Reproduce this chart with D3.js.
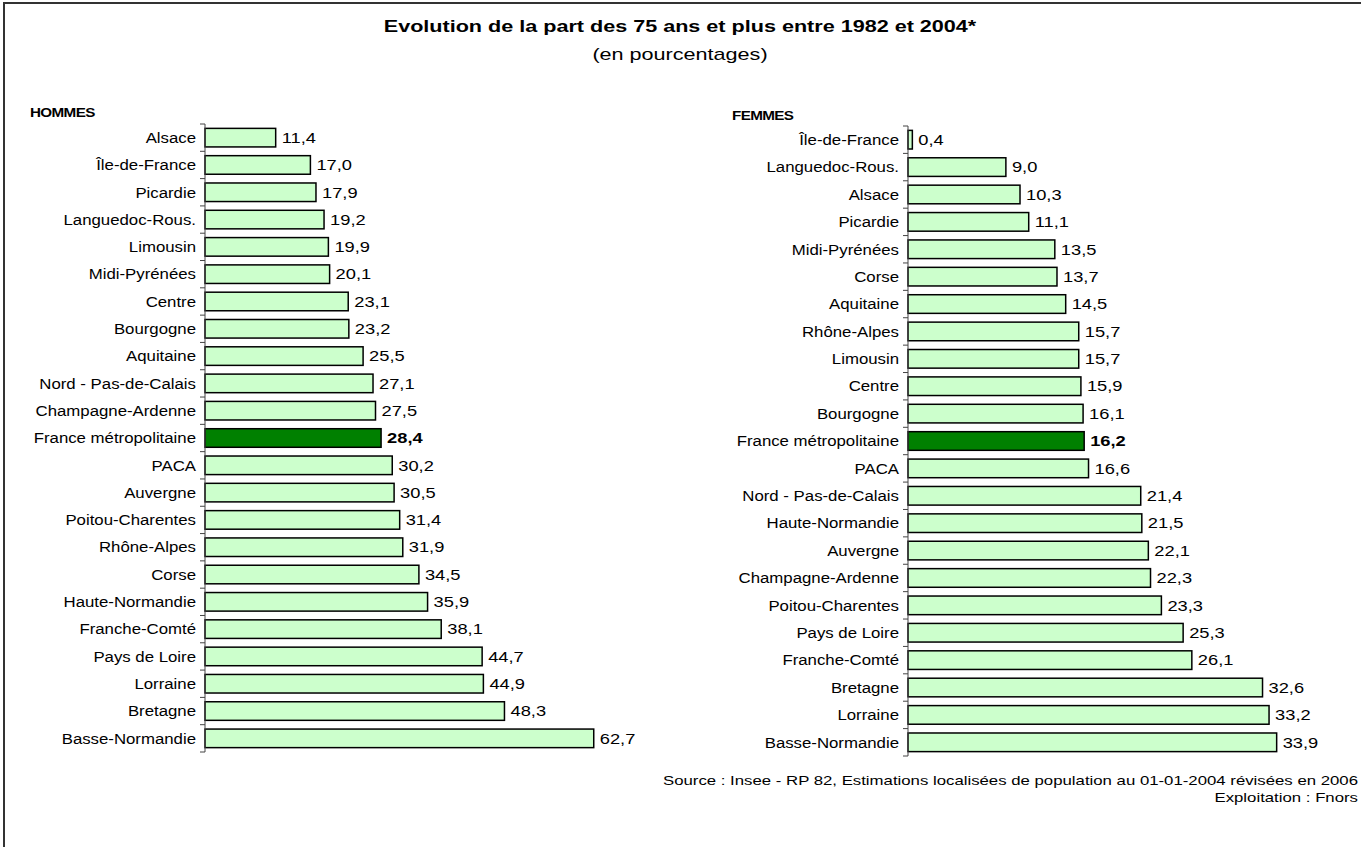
<!DOCTYPE html>
<html>
<head>
<meta charset="utf-8">
<script src="https://cdn.jsdelivr.net/npm/d3@7"></script>
<style>
  body { margin: 0; background: #fff; }
  svg { display: block; font-family: "Liberation Sans", Arial, sans-serif; }
</style>
</head>
<body>
<div id="chart"></div>
<script>
// data
var hommes_regions = ["Alsace", "Île-de-France", "Picardie", "Languedoc-Rous.", "Limousin", "Midi-Pyrénées",
  "Centre", "Bourgogne", "Aquitaine", "Nord - Pas-de-Calais", "Champagne-Ardenne", "France métropolitaine",
  "PACA", "Auvergne", "Poitou-Charentes", "Rhône-Alpes", "Corse", "Haute-Normandie", "Franche-Comté",
  "Pays de Loire", "Lorraine", "Bretagne", "Basse-Normandie"];
var hommes_values = [11.4, 17.0, 17.9, 19.2, 19.9, 20.1, 23.1, 23.2, 25.5, 27.1, 27.5, 28.4,
  30.2, 30.5, 31.4, 31.9, 34.5, 35.9, 38.1, 44.7, 44.9, 48.3, 62.7];

var femmes_regions = ["Île-de-France", "Languedoc-Rous.", "Alsace", "Picardie", "Midi-Pyrénées", "Corse",
  "Aquitaine", "Rhône-Alpes", "Limousin", "Centre", "Bourgogne", "France métropolitaine", "PACA",
  "Nord - Pas-de-Calais", "Haute-Normandie", "Auvergne", "Champagne-Ardenne", "Poitou-Charentes",
  "Pays de Loire", "Franche-Comté", "Bretagne", "Lorraine", "Basse-Normandie"];
var femmes_values = [0.4, 9.0, 10.3, 11.1, 13.5, 13.7, 14.5, 15.7, 15.7, 15.9, 16.1, 16.2, 16.6,
  21.4, 21.5, 22.1, 22.3, 23.3, 25.3, 26.1, 32.6, 33.2, 33.9];

var total_label = "France métropolitaine";

var width = 1361, height = 847;

var svg = d3.select("#chart").append("svg")
  .attr("width", width)
  .attr("height", height);

// the original export is stretched sideways, so the text is too
function Place(sel, x, y, stretch) {
  return sel.attr("transform", function (d, i) {
    var px = typeof x == "function" ? x(d, i) : x;
    var py = typeof y == "function" ? y(d, i) : y;
    return "translate(" + px + "," + py + ") scale(" + stretch + ",1)";
  });
}

// frame, only left and top edges show
svg.append("path")
  .attr("d", "M" + (width + 5) + ",3 L4,3 L4," + (height + 5))
  .attr("fill", "none")
  .attr("stroke", "#333")
  .attr("stroke-width", 2);

Place(svg.append("text"), 680, 32, 1.27)
  .attr("text-anchor", "middle")
  .style("font-size", "17px")
  .style("font-weight", "bold")
  .text("Evolution de la part des 75 ans et plus entre 1982 et 2004*");
Place(svg.append("text"), 680, 60, 1.27)
  .attr("text-anchor", "middle")
  .style("font-size", "17px")
  .text("(en pourcentages)");

function fmt(v) { return d3.format(".1f")(v).replace(".", ","); }

function DrawPanel(title, regions, values, x0, x_max_px, x_domain, y_top, y_bottom, title_x, title_y) {
  var data = regions.map(function (r, i) { return {region: r, value: values[i]}; });
  var x = d3.scaleLinear().domain(x_domain).range([x0, x_max_px]);
  var y = d3.scaleBand().domain(regions).range([y_top, y_bottom])
    .paddingInner(0.32).paddingOuter(0.16);
  var g = svg.append("g");

  Place(g.append("text"), title_x, title_y, 1.27)
    .style("font-size", "12px")
    .style("font-weight", "bold")
    .style("letter-spacing", "-0.5px")
    .text(title);

  // bars
  g.selectAll("rect.bar").data(data).enter().append("rect")
    .attr("class", "bar")
    .attr("x", x(0))
    .attr("y", function (d) { return y(d.region); })
    .attr("width", function (d) { return x(d.value) - x(0); })
    .attr("height", y.bandwidth())
    .attr("fill", function (d) { return d.region == total_label ? "#008000" : "#ccffcc"; })
    .attr("stroke", "#000")
    .attr("stroke-width", 1.5);

  // axis line with ticks between the categories
  var boundaries = regions.map(function (r) { return y(r) - y.step() * 0.16; });
  boundaries.push(y_bottom);
  g.append("line")
    .attr("x1", x(0)).attr("x2", x(0))
    .attr("y1", y_top).attr("y2", y_bottom)
    .attr("stroke", "#444").attr("stroke-width", 1);
  g.selectAll("line.tick").data(boundaries).enter().append("line")
    .attr("class", "tick")
    .attr("x1", x(0) - 5).attr("x2", x(0))
    .attr("y1", function (d) { return d; }).attr("y2", function (d) { return d; })
    .attr("stroke", "#444").attr("stroke-width", 1);

  // category labels
  Place(g.selectAll("text.cat").data(data).enter().append("text"),
      x(0) - 9, function (d) { return y(d.region) + y.bandwidth() / 2; }, 1.12)
    .attr("class", "cat")
    .attr("dy", "0.35em")
    .attr("text-anchor", "end")
    .style("font-size", "15px")
    .text(function (d) { return d.region; });

  // value labels
  Place(g.selectAll("text.val").data(data).enter().append("text"),
      function (d) { return x(d.value) + 6; }, function (d) { return y(d.region) + y.bandwidth() / 2; }, 1.22)
    .attr("class", "val")
    .attr("dy", "0.35em")
    .style("font-size", "15px")
    .style("font-weight", function (d) { return d.region == total_label ? "bold" : "normal"; })
    .text(function (d) { return fmt(d.value); });
}

DrawPanel("HOMMES", hommes_regions, hommes_values, 205, 639, [0, 70], 124, 752, 30, 117);
DrawPanel("FEMMES", femmes_regions, femmes_values, 908, 1343, [0, 40], 126, 756, 732, 120);

Place(svg.append("text"), 1358, 785, 1.29)
  .attr("text-anchor", "end")
  .style("font-size", "13px")
  .text("Source : Insee - RP 82, Estimations localisées de population au 01-01-2004 révisées en 2006");
Place(svg.append("text"), 1358, 802, 1.29)
  .attr("text-anchor", "end")
  .style("font-size", "13px")
  .text("Exploitation : Fnors");
</script>
</body>
</html>
